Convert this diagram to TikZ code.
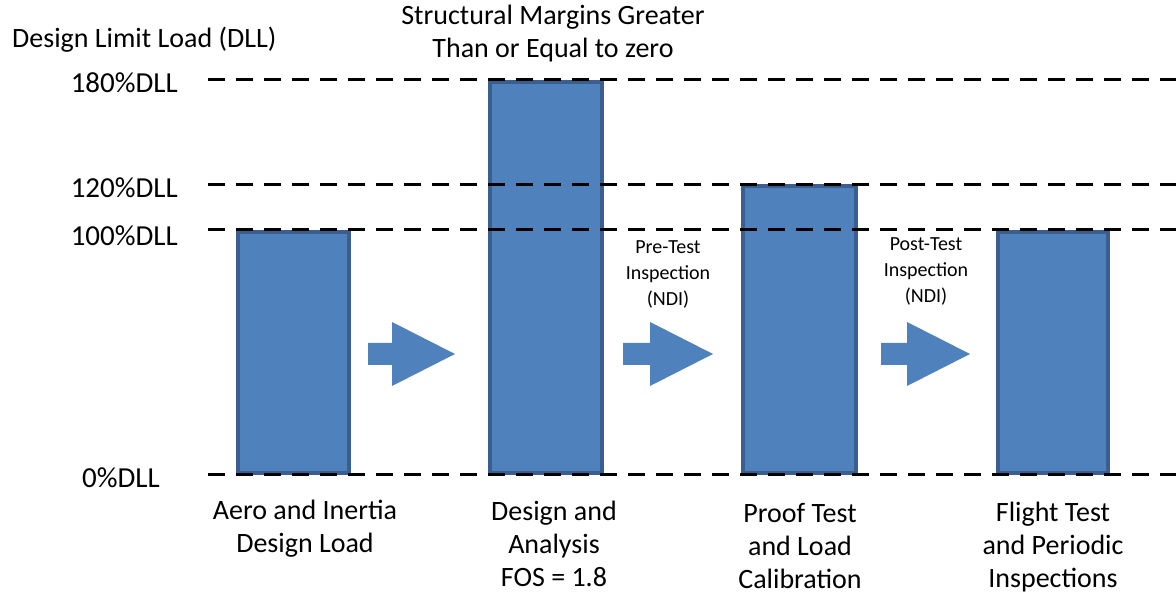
\documentclass[tikz,border=0pt]{standalone}
\usepackage{fontspec}
\setmainfont{Carlito}
\definecolor{barfill}{HTML}{4F81BD}
\definecolor{baredge}{HTML}{3A5F8F}
\begin{document}
\begin{tikzpicture}[x=1pt,y=-1pt,
  bigtext/.style={font=\fontsize{28}{33}\selectfont, align=center, inner sep=0pt},
  smalltext/.style={font=\fontsize{20}{26}\selectfont, align=center, inner sep=0pt},
  levellabel/.style={font=\fontsize{29}{33}\selectfont, anchor=east, inner sep=0pt},
  levelline/.style={line width=3pt, dash pattern=on 17pt off 11pt},
  bar/.style={fill=barfill, draw=baredge, line width=4pt},
  blockarrow/.style={fill=barfill, draw=none}]
\useasboundingbox (0,0) rectangle (1176,593);

% bars
\draw[bar] (238,232) rectangle (349,473);
\draw[bar] (490,82) rectangle (602,473);
\draw[bar] (743,186) rectangle (856,473);
\draw[bar] (998,232) rectangle (1108,473);

% block arrows between stages
\fill[blockarrow] (368,343) -- (392,343) -- (392,322) -- (455,354) -- (392,386) -- (392,365) -- (368,365) -- cycle;
\fill[blockarrow] (623,343) -- (650,343) -- (650,322) -- (713,354) -- (650,386) -- (650,365) -- (623,365) -- cycle;
\fill[blockarrow] (881,343) -- (907,343) -- (907,322) -- (970,354) -- (907,386) -- (907,365) -- (881,365) -- cycle;

% load levels
\coordinate (l180a) at (208,80);  \coordinate (l180b) at (1176,80);
\coordinate (l120a) at (208,185); \coordinate (l120b) at (1176,185);
\coordinate (l100a) at (208,230); \coordinate (l100b) at (1176,230);
\coordinate (l0a) at (208,475);   \coordinate (l0b) at (1176,475);
\draw[levelline] (l180a) -- (l180b);
\draw[levelline] (l120a) -- (l120b);
\draw[levelline] (l100a) -- (l100b);
\draw[levelline] (l0a) -- (l0b);

\node[levellabel] (t180) at (178,83) {180\%DLL};
\node[levellabel] (t120) at (178,188) {120\%DLL};
\node[levellabel] (t100) at (178,236) {100\%DLL};
\node[levellabel] (t0) at (160,478) {0\%DLL};

\node[bigtext, anchor=west] (axis) at (12,40) {Design Limit Load (DLL)};
\node[bigtext] (margins) at (553,34) {Structural Margins Greater\\Than or Equal to zero};

\node[smalltext] (pretest) at (668,274) {Pre-Test\\Inspection\\(NDI)};
\node[smalltext] (posttest) at (926,271) {Post-Test\\Inspection\\(NDI)};

\node[bigtext] (stage1) at (305,529) {Aero and Inertia\\Design Load};
\node[bigtext] (stage2) at (554,544) {Design and\\Analysis\\FOS = 1.8};
\node[bigtext] (stage3) at (800,546) {Proof Test\\and Load\\Calibration};
\node[bigtext] (stage4) at (1053,547) {Flight Test\\and Periodic\\Inspections};
\end{tikzpicture}
\end{document}
